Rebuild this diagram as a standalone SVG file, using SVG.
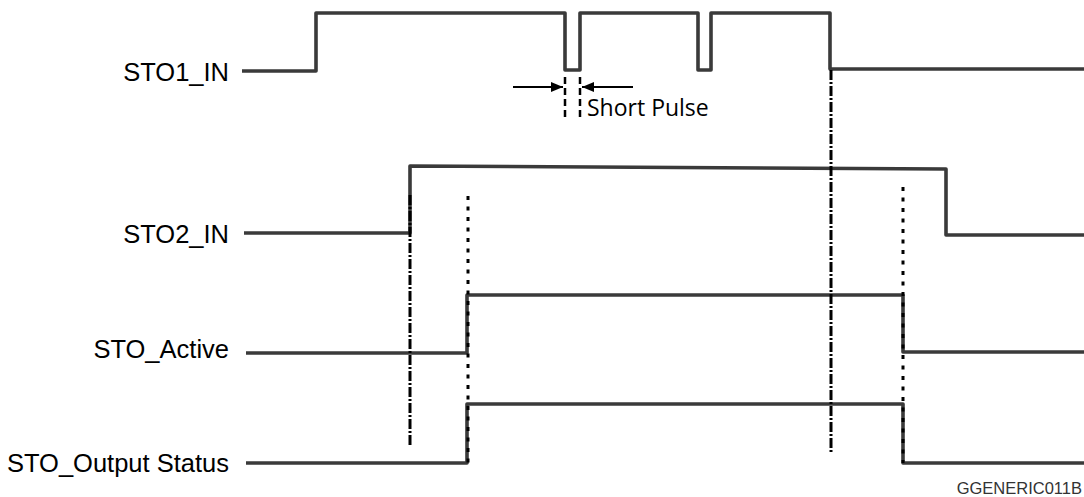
<svg xmlns="http://www.w3.org/2000/svg" width="1084" height="497" viewBox="0 0 1084 497">
<style>
.sig{fill:none;stroke:#3a3a3a;stroke-width:3.6;stroke-linejoin:round}
.dd{fill:none;stroke:#000;stroke-width:3;stroke-dasharray:10 2 2 2}
.dot{fill:none;stroke:#000;stroke-width:3;stroke-dasharray:4 6.5}
.sp{fill:none;stroke:#000;stroke-width:2.5;stroke-dasharray:7 4}
.arr{fill:none;stroke:#000;stroke-width:2}
.lbl{font-family:"Liberation Sans",Arial,sans-serif;font-size:25.5px;fill:#000;text-anchor:end}
</style>
<defs>
<marker id="ah" markerWidth="12" markerHeight="10" refX="12" refY="5" orient="auto" markerUnits="userSpaceOnUse">
<path d="M0,0 L12,5 L0,10 Z" fill="#000"/>
</marker>
</defs>
<rect width="1084" height="497" fill="#fff"/>
<g id="STO1_IN">
<text class="lbl" x="229" y="81">STO1_IN</text>
<path class="sig" d="M242 71 H316 V13 H565 V70 H580 V13 H698 V70 H711 V13 H830 V69 H1084"/>
</g>
<g id="STO2_IN">
<text class="lbl" x="229" y="243">STO2_IN</text>
<path class="sig" d="M244 233 H410 V166 L946 169 V235 H1084"/>
</g>
<g id="STO_Active">
<text class="lbl" x="229" y="358">STO_Active</text>
<path class="sig" d="M246 353 H467 V295 H903 V352 H1084"/>
</g>
<g id="STO_Output_Status">
<text class="lbl" x="229" y="472">STO_Output Status</text>
<path class="sig" d="M246 463 H467 V404 H903 V463 H1084"/>
</g>
<g id="connectors">
<line class="dd" x1="410" y1="195" x2="410" y2="447"/>
<line class="dot" x1="468" y1="196" x2="468" y2="465"/>
<line class="dd" x1="831" y1="70" x2="831" y2="454"/>
<line class="dot" x1="903" y1="187" x2="903" y2="463"/>
<line class="sp" x1="565" y1="77" x2="565" y2="118"/>
<line class="sp" x1="580" y1="77" x2="580" y2="118"/>
<line class="arr" x1="513" y1="87" x2="563" y2="87" marker-end="url(#ah)"/>
<line class="arr" x1="633" y1="87" x2="582" y2="87" marker-end="url(#ah)"/>
</g>
<g id="short_pulse_label">
<text x="587" y="116" font-family="'Open Sans',sans-serif" font-size="23" fill="#000">Short Pulse</text>
</g>
<g id="figure_id">
<text x="1082" y="494" font-family="'Liberation Sans',Arial,sans-serif" font-size="16.5" fill="#333" text-anchor="end">GGENERIC011B</text>
</g>
</svg>
